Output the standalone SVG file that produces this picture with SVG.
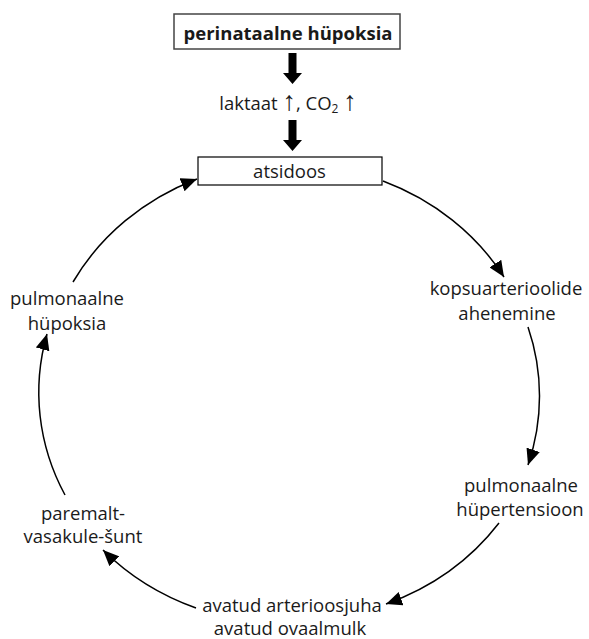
<svg xmlns="http://www.w3.org/2000/svg" width="589" height="639" viewBox="0 0 589 639">
<style>
text{font-family:"Open Sans","Noto Sans","DejaVu Sans",sans-serif;font-size:18.5px;fill:#1a1a1a;text-anchor:middle}
.b{font-weight:bold}
.ar{font-family:"Liberation Sans","DejaVu Sans",sans-serif;font-size:27px}
.box{fill:#fff;stroke:#000;stroke-width:1.2}
.conn path{fill:none;stroke:#000;stroke-width:1.5}
.big{fill:#000}
</style>
<defs>
<marker id="ah" markerUnits="userSpaceOnUse" markerWidth="18" markerHeight="14" refX="16" refY="7" orient="auto">
<path d="M0,0 L16,7 L0,14 Z" fill="#000"/>
</marker>
</defs>
<g id="n-perinataalne">
<rect class="box" x="174" y="14" width="226" height="35" style="stroke:#444;stroke-width:1.5"/>
<text class="b" x="288" y="40">perinataalne hüpoksia</text>
</g>
<g id="n-laktaat">
<text x="288" y="110">laktaat <tspan class="ar">↑</tspan>, CO<tspan font-size="12" dy="3">2</tspan><tspan dy="-3"> </tspan><tspan class="ar">↑</tspan></text>
</g>
<g id="n-atsidoos">
<rect class="box" x="198" y="157" width="184" height="28"/>
<text x="289.5" y="178">atsidoos</text>
</g>
<g id="n-kopsu">
<text x="506" y="295">kopsuarterioolide</text>
<text x="507" y="320">ahenemine</text>
</g>
<g id="n-pulmhyp">
<text x="521" y="492">pulmonaalne</text>
<text x="520" y="516">hüpertensioon</text>
</g>
<g id="n-avatud">
<text x="292" y="612">avatud arterioosjuha</text>
<text x="290" y="635">avatud ovaalmulk</text>
</g>
<g id="n-shunt">
<text x="83" y="520">paremalt-</text>
<text x="83" y="543">vasakule-šunt</text>
</g>
<g id="n-pulmhypoks">
<text x="67" y="305">pulmonaalne</text>
<text x="67" y="330">hüpoksia</text>
</g>
<g id="connectors" class="conn">
<polygon class="big" points="288.5,53 296.5,53 296.5,73 302,73 292.5,84 283,73 288.5,73"/>
<polygon class="big" points="288.5,120 296.5,120 296.5,140 302,140 292.5,151 283,140 288.5,140"/>
<path d="M383,181 A250,230 0 0 1 504,277" marker-end="url(#ah)"/>
<path d="M528,327 A250,230 0 0 1 528,465" marker-end="url(#ah)"/>
<path d="M499,523 A250,230 0 0 1 386,604" marker-end="url(#ah)"/>
<path d="M196,608 A250,230 0 0 1 103,550" marker-end="url(#ah)"/>
<path d="M65,495 A250,230 0 0 1 47,334" marker-end="url(#ah)"/>
<path d="M73,282 A250,230 0 0 1 197,179" marker-end="url(#ah)"/>
</g>
</svg>
